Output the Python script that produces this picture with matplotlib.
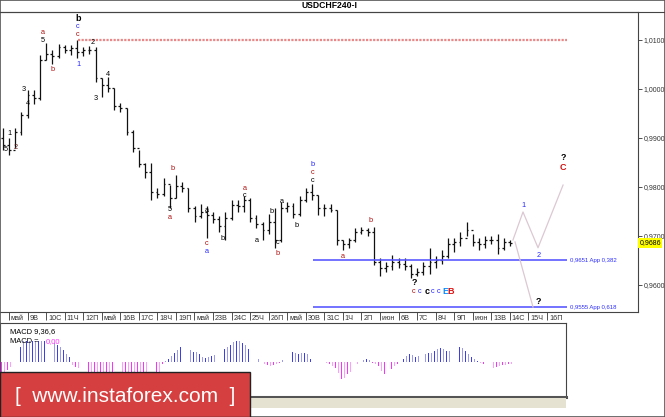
import matplotlib
matplotlib.use("Agg")
import matplotlib.pyplot as plt
from matplotlib.patches import Rectangle
from matplotlib.lines import Line2D
import matplotlib.transforms as mtrans
import numpy as np

# x axis day labels (one per trading day)
day_labels = ["май", "9В", "10С", "11Ч", "12П", "май", "16В", "17С", "18Ч", "19П",
              "май", "23В", "24С", "25Ч", "26П", "май", "30В", "31С", "1Ч", "2П",
              "июн", "6В", "7С", "8Ч", "9П", "июн", "13В", "14С", "15Ч", "16П"]

# price bars (8H)
highs = [0.9920, 0.9900, 0.9920, 0.9953, 0.9998, 0.9998, 1.0069, 1.0094, 1.0080, 1.0092,
         1.0090, 1.0090, 1.0100, 1.0086, 1.0088, 1.0086, 1.0022, 1.0024, 1.0002, 0.9971,
         0.9961, 0.9916, 0.9876, 0.9849, 0.9849, 0.9798, 0.9818, 0.9804, 0.9824, 0.9810,
         0.9798, 0.9761, 0.9765, 0.9761, 0.9749, 0.9741, 0.9749, 0.9773, 0.9773, 0.9782,
         0.9778, 0.9743, 0.9729, 0.9745, 0.9757, 0.9769, 0.9769, 0.9767, 0.9782, 0.9798,
         0.9806, 0.9784, 0.9765, 0.9765, 0.9753, 0.9692, 0.9696, 0.9716, 0.9718, 0.9716,
         0.9718, 0.9655, 0.9647, 0.9661, 0.9655, 0.9655, 0.9643, 0.9635, 0.9647, 0.9676,
         0.9659, 0.9671, 0.9696, 0.9696, 0.9708, 0.9729, 0.9704, 0.9696, 0.9700, 0.9700,
         0.9704, 0.9696, 0.9692]
lows = [0.9876, 0.9865, 0.9880, 0.9906, 0.9941, 0.9969, 0.9978, 1.0059, 1.0051, 1.0063,
        1.0073, 1.0069, 1.0063, 1.0067, 1.0071, 1.0014, 0.9984, 0.9994, 0.9957, 0.9953,
        0.9906, 0.9871, 0.9841, 0.9818, 0.9773, 0.9778, 0.9782, 0.9757, 0.9778, 0.9790,
        0.9749, 0.9729, 0.9737, 0.9696, 0.9727, 0.9708, 0.9692, 0.9733, 0.9749, 0.9749,
        0.9729, 0.9716, 0.9692, 0.9704, 0.9676, 0.9688, 0.9749, 0.9737, 0.9741, 0.9769,
        0.9773, 0.9743, 0.9741, 0.9749, 0.9682, 0.9671, 0.9676, 0.9688, 0.9704, 0.9700,
        0.9641, 0.9618, 0.9627, 0.9631, 0.9635, 0.9631, 0.9614, 0.9618, 0.9620, 0.9622,
        0.9635, 0.9643, 0.9655, 0.9667, 0.9680, 0.9700, 0.9680, 0.9671, 0.9676, 0.9684,
        0.9663, 0.9671, 0.9680]
closes = [0.9886, 0.9876, 0.9912, 0.9947, 0.9988, 0.9982, 1.0059, 1.0071, 1.0067, 1.0086,
          1.0080, 1.0084, 1.0076, 1.0080, 1.0080, 1.0022, 1.0008, 1.0002, 0.9965, 0.9961,
          0.9912, 0.9880, 0.9847, 0.9831, 0.9790, 0.9786, 0.9806, 0.9778, 0.9802, 0.9798,
          0.9757, 0.9741, 0.9749, 0.9743, 0.9735, 0.9720, 0.9737, 0.9763, 0.9761, 0.9773,
          0.9737, 0.9724, 0.9712, 0.9729, 0.9692, 0.9757, 0.9761, 0.9745, 0.9773, 0.9790,
          0.9784, 0.9757, 0.9757, 0.9753, 0.9692, 0.9684, 0.9692, 0.9708, 0.9712, 0.9708,
          0.9647, 0.9635, 0.9639, 0.9647, 0.9643, 0.9639, 0.9622, 0.9627, 0.9639, 0.9647,
          0.9651, 0.9659, 0.9684, 0.9688, 0.9696, 0.9712, 0.9688, 0.9684, 0.9692, 0.9692,
          0.9676, 0.9688, 0.9686]
first_open = 0.9900

# MACD histogram (4H), in pips
macd = [-12, -10, -8, -5, -2,
        8, 15, 21, 21, 21, 21, 21, 21, 21, 21, 21, 21,
        19, 17, 15, 12, 8, 5,
        -3, -5, -6, -7, -9, -10,
        -12, -13, -14, -15, -16, -17, -18, -18, -18, -17, -17, -16, -16, -15, -15, -14,
        -14, -13, -12, -12, -11, -11, -10,
        -2,
        1, 3, 6, 9, 12, 15, 17, 16, 12, 10, 10, 8, 5, 4, 5, 6, 7, 10, 12, 13,
        15, 17, 20, 21, 21, 19, 17, 13, 12, 7, 3, 0, -2, -3, -4, -3, -2,
        -1, 2, 4, 8, 10, 9, 8, 9, 9, 8, 3, 0, 0, 0,
        0, -1, -2, -4, -6, -11, -17, -16, -12, -10, -6, -2, 0, 2, 3, 2,
        -1, -2, -4, -9, -12, -11, -7, -4, -2, 0,
        3, 6, 8, 7, 5, 6, 6, 8, 9, 9, 11, 13, 14, 13, 11, 11, 11, 13, 15, 14, 11, 8, 5, 3, 1,
        -1, -2, -2, -4, -6, -5, -4, -3, -3, -2, -2]

# levels and forecast path
top_level = 1.0100
fib_levels = [0.9651, 0.9555]
fib_texts = ["0,9651 App 0,382", "0,9555 App 0,618"]
last_price = 0.9686
fc_x = [27.17, 27.71, 28.52, 29.87]
fc_y = [0.9692, 0.9749, 0.9676, 0.9804]
fc2_x = [27.28, 28.25]
fc2_y = [0.9688, 0.9555]

RED = "#b01010"
BLUE = "#2828ff"
BLK = "#000000"
# wave labels: text, day, price, colour, bold
waves = [
    ("5", -0.16, 0.9876, BLK, False), ("1", 0.0, 0.9910, BLK, False),
    ("2", 0.38, 0.9880, "#602020", False), ("3", 0.81, 0.9998, BLK, False),
    ("4", 1.02, 0.9971, BLK, False), ("a", 1.83, 1.0115, RED, False),
    ("5", 1.83, 1.0098, BLK, False), ("b", 2.37, 1.0039, RED, False),
    ("b", 3.72, 1.0144, BLK, True), ("c", 3.72, 1.0127, BLUE, False),
    ("c", 3.72, 1.0111, RED, False), ("1", 3.72, 1.0049, BLUE, False),
    ("2", 4.53, 1.0094, BLK, False), ("3", 4.69, 0.9980, BLK, False),
    ("4", 5.34, 1.0029, BLK, False), ("b", 8.84, 0.9837, RED, False),
    ("5", 8.68, 0.9754, BLK, False), ("a", 8.68, 0.9737, RED, False),
    ("a", 10.67, 0.9753, BLK, False), ("c", 10.67, 0.9685, RED, False),
    ("a", 10.67, 0.9668, BLUE, False), ("b", 11.54, 0.9694, BLK, False),
    ("a", 12.72, 0.9797, RED, False), ("c", 12.72, 0.9782, BLK, False),
    ("a", 13.37, 0.9690, BLK, False), ("b", 14.18, 0.9751, BLK, False),
    ("c", 14.5, 0.9686, BLK, False), ("b", 14.5, 0.9665, RED, False),
    ("a", 14.72, 0.9771, BLK, False), ("b", 15.53, 0.9722, BLK, False),
    ("b", 16.39, 0.9845, BLUE, False), ("c", 16.39, 0.9829, RED, False),
    ("c", 16.39, 0.9813, BLK, False), ("a", 18.0, 0.9659, RED, False),
    ("b", 19.51, 0.9731, RED, False), ("?", 21.83, 0.9605, BLK, True),
    ("c", 21.83, 0.9587, RED, False), ("c", 22.16, 0.9587, BLUE, False),
    ("c", 22.53, 0.9587, BLK, True), ("c", 22.86, 0.9587, BLUE, False),
    ("c", 23.18, 0.9587, BLUE, False), ("E", 23.50, 0.9587, "#0a8cff", True),
    ("B", 23.83, 0.9587, "#e01010", True),
    ("1", 27.71, 0.9763, BLUE, False), ("2", 28.57, 0.9661, BLUE, False),
    ("?", 29.87, 0.9860, BLK, True), ("C", 29.87, 0.9840, "#d01010", True),
    ("?", 28.52, 0.9566, BLK, True),
]

W, H = 665, 417
def fx(px):
    return px / W
def fy(py):
    return 1 - py / H

plt.rcParams['font.family'] = ['Liberation Sans', 'DejaVu Sans']
fig = plt.figure(figsize=(6.65, 4.17), dpi=100)
fig.patch.set_facecolor("white")

# main price panel
ax = fig.add_axes([0, fy(312), fx(638), (312 - 12) / H])
ax.set_xlim(-0.485, 33.91)
ax.set_ylim(0.95449, 1.015714)
ax.spines["left"].set_visible(False)
for s in ["top", "right", "bottom"]:
    ax.spines[s].set_color("#444444")
    ax.spines[s].set_linewidth(0.8)

n = len(closes)
bx = -0.33 + np.arange(n) / 3.0
opens = [first_open] + closes[:-1]
tk = 0.1
ax.vlines(bx, lows, highs, color="#111111", lw=0.9)
ax.hlines(opens, bx - tk, bx, color="#111111", lw=0.9)
ax.hlines(closes, bx, bx + tk, color="#111111", lw=0.9)

ax.hlines(top_level, 3.72, 30.1, color="#e88888", lw=1.6, linestyles=(0, (1, 0.6)))
for lv, t in zip(fib_levels, fib_texts):
    ax.hlines(lv, 16.39, 30.1, color="#5a5aff", lw=1.2)
    ax.text(30.25, lv, t, color="#3030ff", fontsize=4.3, va="center", ha="left")

ax.plot(fc_x, fc_y, color="#dcc8d2", lw=0.9)
ax.plot(fc2_x, fc2_y, color="#dcc8d2", lw=0.9)

for t, x, y, c, b in waves:
    ax.text(x, y, t, color=c, fontsize=6.5 if b else 5.3, fontweight="bold" if b else "normal",
            ha="center", va="center")

ax.yaxis.tick_right()
ax.set_yticks([0.96, 0.97, 0.98, 0.99, 1.00, 1.01])
ax.set_yticklabels(["0,9600", "0,9700", "0,9800", "0,9900", "1,0000", "1,0100"])
ax.tick_params(axis="y", direction="out", length=3, width=0.6, labelsize=5.0, pad=1,
               colors="#333333")
ax.set_xticks(np.arange(len(day_labels)))
ax.set_xticklabels(day_labels)
ax.tick_params(axis="x", direction="out", length=6, width=0.6, labelsize=5.2, pad=-4,
               colors="#333333")
shift = mtrans.ScaledTranslation(2 / 100, 0, fig.dpi_scale_trans)
for lab in ax.get_xticklabels():
    lab.set_ha("left")
    lab.set_transform(lab.get_transform() + shift)

ax.text(1.002, last_price, "0,9686", transform=ax.get_yaxis_transform(), fontsize=5.0,
        va="center", ha="left", color="black",
        bbox=dict(boxstyle="square,pad=0.2", fc="#ffff00", ec="none"))

# MACD panel
ax2 = fig.add_axes([0, fy(397), fx(566), (397 - 323) / H])
ax2.set_xlim(-0.485, 30.03)
ax2.set_ylim(-35, 39)
mx = -0.4 + np.arange(len(macd)) / 6.0
cols = []
for i, v in enumerate(macd):
    if v >= 0:
        cols.append("#3c3cf0" if i % 2 == 0 else "#9a9af5")
    else:
        cols.append("#ff30ff" if i % 2 == 0 else "#ff9cff")
ax2.bar(mx, macd, width=0.045, color=cols, linewidth=0)
ax2.set_xticks([])
ax2.set_yticks([])
for s in ax2.spines.values():
    s.set_color("#444444")
    s.set_linewidth(0.8)
ax2.spines["bottom"].set_linewidth(2.2)
ax2.spines["bottom"].set_color("#555555")
ax2.text(0.018, 0.93, "MACD 9,36,6", transform=ax2.transAxes, fontsize=5.4, va="top")
ax2.text(0.018, 0.80, "MACD =", transform=ax2.transAxes, fontsize=5.4, va="top")
ax2.text(0.080, 0.80, "0,00", transform=ax2.transAxes, fontsize=5.4, va="top", color="#ff30ff")

# bottom strip and logo
fig.add_artist(Rectangle((fx(250), fy(408)), fx(566) - fx(250), 10 / H,
                         transform=fig.transFigure, fc="#e6e2d2", ec="none"))
fig.add_artist(Rectangle((0, 0), fx(250), 45 / H, transform=fig.transFigure,
                         fc="#d63f3f", ec="#222222", lw=1.0, zorder=10))
fig.text(fx(125), fy(396), "[  www.instaforex.com  ]", color="white", fontsize=15,
         family="Liberation Sans", ha="center", va="center", zorder=11)

fig.text(fx(330), fy(5), "USDCHF240-I", fontsize=6.2, fontweight="bold", ha="center",
         va="center")
fig.add_artist(Line2D([0, 1], [fy(12), fy(12)], transform=fig.transFigure,
                      color="#444444", lw=0.8))
fig.add_artist(Rectangle((0, 0), 1, 1, transform=fig.transFigure, fc="none",
                         ec="#555555", lw=1.2))

fig.savefig("out.png", dpi=100)
